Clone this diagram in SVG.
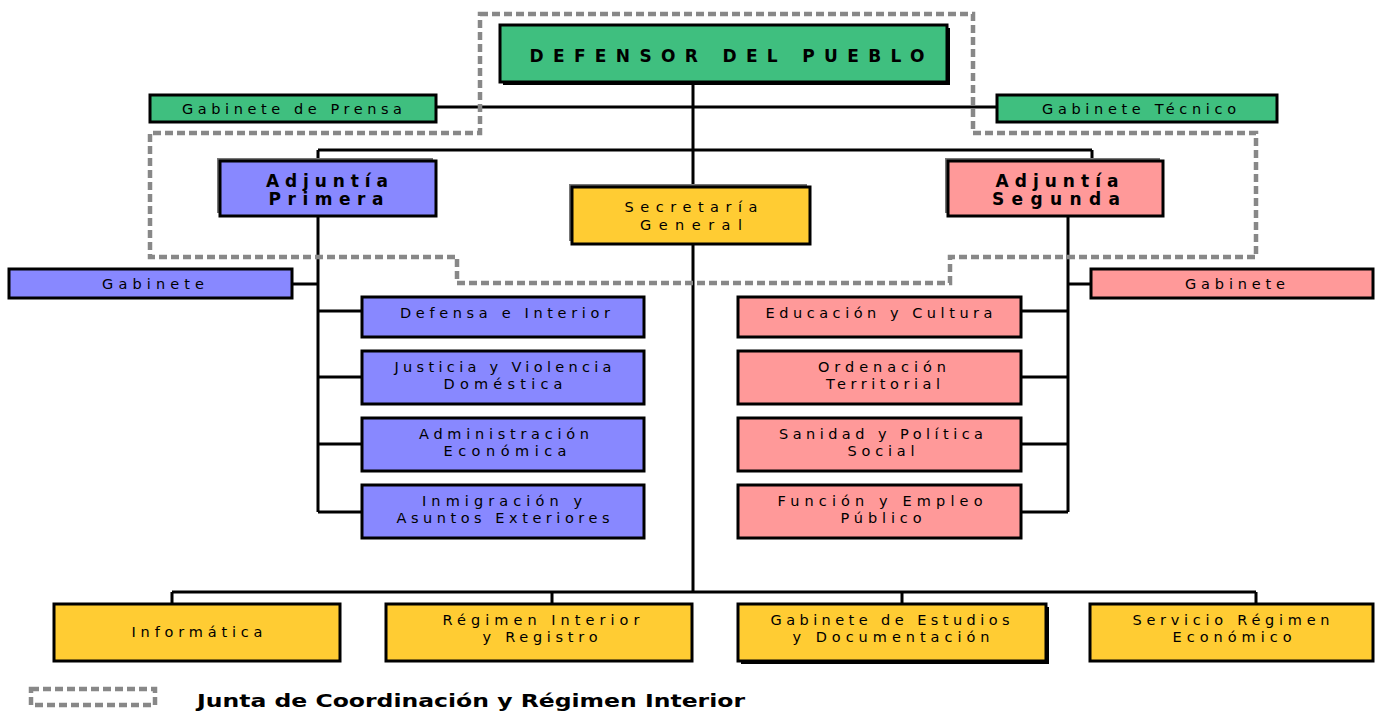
<svg xmlns="http://www.w3.org/2000/svg" width="1375" height="711" viewBox="0 0 1375 711">
<style>
.box{stroke:#000;stroke-width:3}
.g{fill:#3FBF7F}.b{fill:#8888FF}.p{fill:#FF9999}.y{fill:#FFCC33}
.t{font-family:"DejaVu Sans",Verdana,sans-serif;font-size:14.5px;fill:#000;text-anchor:middle}
.bt{font-family:"DejaVu Sans",Verdana,sans-serif;font-size:17px;font-weight:bold;fill:#000;text-anchor:middle}
.c{stroke:#000;stroke-width:3;fill:none}
.d{stroke:#888;stroke-width:4.5;fill:none;stroke-dasharray:8 4}
</style>
<rect width="1375" height="711" fill="#fff"/>
<g id="connectors">
<path class="c" d="M693 82V592M436 107H997M318 150H1092M318 150V161M1092 150V161M318 216V512M292 284H318M318 311H362M318 377H362M318 444H362M318 512H362M1068 216V512M1068 284H1091M1021 311H1068M1021 377H1068M1021 444H1068M1021 512H1068M172 592H1256M172 592V604M552 592V604M902 592V604M1256 592V604"/>
</g>
<g id="junta-outline">
<path class="d" d="M480 14H973V133H1256V257H950V283H457V257H150V133H480Z"/>
</g>
<g id="defensor">
<rect x="503" y="28" width="447" height="57" fill="#000"/>
<rect class="box g" x="500" y="25" width="447" height="57"/>
<text class="bt" x="727" y="62" font-size="18" textLength="395" lengthAdjust="spacing">DEFENSOR DEL PUEBLO</text>
</g>
<g id="gabinete-prensa">
<rect class="box g" x="150" y="95" width="286" height="27"/>
<text class="t" x="292" y="114" textLength="220" lengthAdjust="spacing">Gabinete de Prensa</text>
</g>
<g id="gabinete-tecnico">
<rect class="box g" x="997" y="95" width="280" height="27"/>
<text class="t" x="1139" y="114" textLength="194" lengthAdjust="spacing">Gabinete Técnico</text>
</g>
<g id="adjuntia-primera">
<rect x="217" y="158" width="216" height="55" fill="#777"/>
<rect class="box b" x="220" y="161" width="216" height="55"/>
<text class="bt" x="327" y="187" textLength="122" lengthAdjust="spacing">Adjuntía</text>
<text class="bt" x="326" y="205" textLength="115" lengthAdjust="spacing">Primera</text>
</g>
<g id="secretaria-general">
<rect x="569" y="184" width="238" height="57" fill="#777"/>
<rect class="box y" x="572" y="187" width="238" height="57"/>
<text class="t" x="691" y="212" textLength="133" lengthAdjust="spacing" font-size="15">Secretaría</text>
<text class="t" x="691" y="230" textLength="102" lengthAdjust="spacing" font-size="15">General</text>
</g>
<g id="adjuntia-segunda">
<rect x="945" y="158" width="215" height="55" fill="#777"/>
<rect class="box p" x="948" y="161" width="215" height="55"/>
<text class="bt" x="1057" y="187" textLength="123" lengthAdjust="spacing">Adjuntía</text>
<text class="bt" x="1056" y="205" textLength="128" lengthAdjust="spacing">Segunda</text>
</g>
<g id="gabinete-1">
<rect class="box b" x="9" y="269" width="283" height="29"/>
<text class="t" x="153" y="289" textLength="102" lengthAdjust="spacing">Gabinete</text>
</g>
<g id="gabinete-2">
<rect class="box p" x="1091" y="269" width="282" height="29"/>
<text class="t" x="1235" y="289" textLength="100" lengthAdjust="spacing">Gabinete</text>
</g>
<g id="defensa-interior">
<rect class="box b" x="362" y="297" width="282" height="40"/>
<text class="t" x="505" y="318" textLength="210" lengthAdjust="spacing">Defensa e Interior</text>
</g>
<g id="justicia">
<rect class="box b" x="362" y="351" width="282" height="53"/>
<text class="t" x="503" y="372" textLength="217" lengthAdjust="spacing">Justicia y Violencia</text>
<text class="t" x="503" y="389" textLength="119" lengthAdjust="spacing">Doméstica</text>
</g>
<g id="administracion">
<rect class="box b" x="362" y="418" width="282" height="53"/>
<text class="t" x="504" y="439" textLength="170" lengthAdjust="spacing">Administración</text>
<text class="t" x="505" y="456" textLength="123" lengthAdjust="spacing">Económica</text>
</g>
<g id="inmigracion">
<rect class="box b" x="362" y="485" width="282" height="53"/>
<text class="t" x="502" y="506" textLength="160" lengthAdjust="spacing">Inmigración y</text>
<text class="t" x="503" y="523" textLength="213" lengthAdjust="spacing">Asuntos Exteriores</text>
</g>
<g id="educacion">
<rect class="box p" x="738" y="297" width="283" height="40"/>
<text class="t" x="879" y="318" textLength="227" lengthAdjust="spacing">Educación y Cultura</text>
</g>
<g id="ordenacion">
<rect class="box p" x="738" y="351" width="283" height="53"/>
<text class="t" x="882" y="372" textLength="128" lengthAdjust="spacing">Ordenación</text>
<text class="t" x="883" y="389" textLength="114" lengthAdjust="spacing">Territorial</text>
</g>
<g id="sanidad">
<rect class="box p" x="738" y="418" width="283" height="53"/>
<text class="t" x="881" y="439" textLength="204" lengthAdjust="spacing">Sanidad y Política</text>
<text class="t" x="881" y="456" textLength="67" lengthAdjust="spacing">Social</text>
</g>
<g id="funcion">
<rect class="box p" x="738" y="485" width="283" height="53"/>
<text class="t" x="880" y="506" textLength="205" lengthAdjust="spacing">Función y Empleo</text>
<text class="t" x="881" y="523" textLength="81" lengthAdjust="spacing">Público</text>
</g>
<g id="informatica">
<rect class="box y" x="54" y="604" width="286" height="57"/>
<text class="t" x="197" y="637" textLength="131" lengthAdjust="spacing">Informática</text>
</g>
<g id="regimen-interior">
<rect class="box y" x="386" y="604" width="306" height="57"/>
<text class="t" x="541" y="625" textLength="197" lengthAdjust="spacing">Régimen Interior</text>
<text class="t" x="540" y="642" textLength="115" lengthAdjust="spacing">y Registro</text>
</g>
<g id="gabinete-estudios">
<rect x="741" y="607" width="308" height="57" fill="#000"/>
<rect class="box y" x="738" y="604" width="308" height="57"/>
<text class="t" x="890" y="625" textLength="239" lengthAdjust="spacing">Gabinete de Estudios</text>
<text class="t" x="891" y="642" textLength="197" lengthAdjust="spacing">y Documentación</text>
</g>
<g id="servicio-regimen">
<rect class="box y" x="1090" y="604" width="283" height="57"/>
<text class="t" x="1231" y="625" textLength="197" lengthAdjust="spacing">Servicio Régimen</text>
<text class="t" x="1232" y="642" textLength="119" lengthAdjust="spacing">Económico</text>
</g>
<g id="legend">
<rect class="d" x="31" y="689" width="124" height="16" stroke-width="4"/>
<text x="197" y="707" font-family="DejaVu Sans,Verdana,sans-serif" font-size="18" font-weight="bold" textLength="548" lengthAdjust="spacingAndGlyphs">Junta de Coordinación y Régimen Interior</text>
</g>
</svg>
